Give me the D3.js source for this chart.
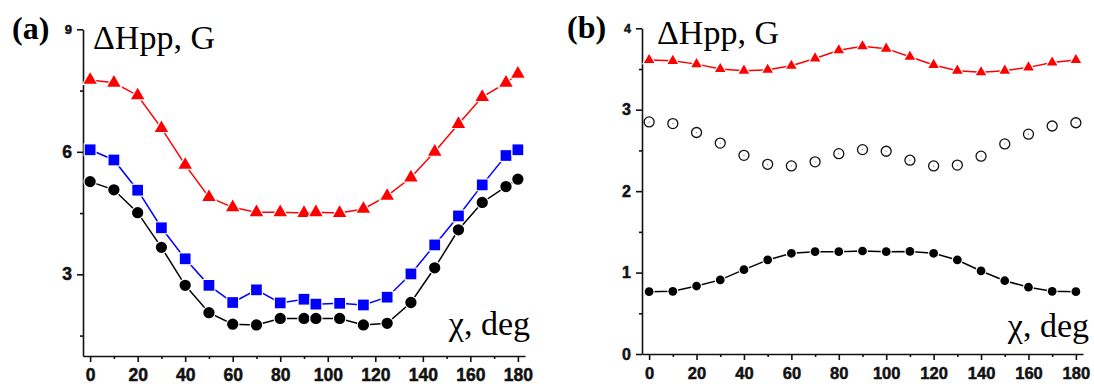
<!DOCTYPE html>
<html>
<head>
<meta charset="utf-8">
<script src="https://cdn.jsdelivr.net/npm/d3@7"></script>
<style>
  body { margin: 0; background: #fff; }
  svg { display: block; }
</style>
</head>
<body>
<div id="chart"></div>
<script>
// panel (a) data
const anglesA = [0, 10, 20, 30, 40, 50, 60, 70, 80, 90, 95, 105, 115, 125, 135, 145, 155, 165, 175, 180];
const redA   = [7.76, 7.69, 7.38, 6.58, 5.68, 4.89, 4.64, 4.52, 4.52, 4.50, 4.52, 4.50, 4.60, 4.92, 5.37, 6.00, 6.68, 7.34, 7.69, 7.91];
const blueA  = [6.05, 5.80, 5.06, 4.14, 3.38, 2.73, 2.31, 2.62, 2.30, 2.39, 2.27, 2.29, 2.25, 2.44, 3.01, 3.72, 4.43, 5.19, 5.91, 6.05];
const blackA = [5.27, 5.07, 4.51, 3.66, 2.73, 2.06, 1.78, 1.76, 1.92, 1.92, 1.92, 1.92, 1.76, 1.80, 2.31, 3.16, 4.09, 4.76, 5.15, 5.33];

// panel (b) data
const anglesB = [0, 10, 20, 30, 40, 50, 60, 70, 80, 90, 100, 110, 120, 130, 140, 150, 160, 170, 180];
const redB   = [3.61, 3.60, 3.56, 3.50, 3.48, 3.49, 3.54, 3.63, 3.73, 3.78, 3.75, 3.65, 3.55, 3.48, 3.46, 3.48, 3.52, 3.58, 3.61];
const openB  = [2.85, 2.83, 2.72, 2.59, 2.44, 2.33, 2.31, 2.36, 2.46, 2.51, 2.49, 2.38, 2.31, 2.32, 2.43, 2.58, 2.70, 2.80, 2.84];
const blackB = [0.765, 0.77, 0.835, 0.91, 1.036, 1.155, 1.237, 1.257, 1.257, 1.265, 1.257, 1.26, 1.237, 1.155, 1.02, 0.90, 0.82, 0.77, 0.765];

// tick values
const xMajor = [0, 20, 40, 60, 80, 100, 120, 140, 160, 180];
const xMinor = [10, 30, 50, 70, 90, 110, 130, 150, 170];
const yMajorA = [3, 6, 9];
const yMinorA = [1.5, 4.5, 7.5];
const yMajorB = [0, 1, 2, 3, 4];
const yMinorB = [0.5, 1.5, 2.5, 3.5];

const width = 1094, height = 386;
const svg = d3.select("#chart").append("svg")
    .attr("width", width)
    .attr("height", height);

function styleLabels(sel, size) {
    sel.style("font-family", "Arial, 'Liberation Sans', sans-serif")
        .style("font-weight", "700")
        .style("font-size", size)
        .attr("fill", "#111")
        .attr("stroke", "#111")
        .attr("stroke-width", 0.5);
}

function drawAxes(g, x, y, yMajor, yMinor, yLabelSize, xLabelSize, topLabelSize) {
    const yTop = y.domain()[1];
    // y axis
    const ya = g.append("g")
        .attr("transform", `translate(${x.range()[0]},0)`)
        .call(d3.axisLeft(y).tickValues(yMajor).tickFormat(d3.format("d"))
            .tickSize(6).tickSizeOuter(0).tickPadding(5));
    styleLabels(ya.selectAll("text"), d => (d === yTop ? topLabelSize : yLabelSize) + "px");
    g.append("g")
        .attr("transform", `translate(${x.range()[0]},0)`)
        .call(d3.axisLeft(y).tickValues(yMinor).tickSize(3).tickFormat(""))
        .select(".domain").remove();

    // x axis
    const xa = g.append("g")
        .attr("transform", `translate(0,${y.range()[0]})`)
        .call(d3.axisBottom(x).tickValues(xMajor).tickSize(6).tickSizeOuter(0).tickPadding(7));
    styleLabels(xa.selectAll("text"), xLabelSize + "px");
    g.append("g")
        .attr("transform", `translate(0,${y.range()[0]})`)
        .call(d3.axisBottom(x).tickValues(xMinor).tickSize(3).tickFormat(""))
        .select(".domain").remove();

    g.selectAll(".domain, .tick line")
        .attr("stroke", "#111")
        .attr("stroke-width", 1.6);
}

function drawSeries(g, x, y, angles, vals, color, shape, size, withLine) {
    const pts = angles.map((a, i) => [a, vals[i]]);
    if (withLine) {
        g.append("path")
            .datum(pts)
            .attr("fill", "none")
            .attr("stroke", color)
            .attr("stroke-width", 1.5)
            .attr("d", d3.line().x(d => x(d[0])).y(d => y(d[1])));
    }
    g.append("g").selectAll("path")
        .data(pts)
        .join("path")
        .attr("transform", d => `translate(${x(d[0])},${y(d[1])})`)
        .attr("d", d3.symbol().type(shape).size(size))
        .attr("fill", color)
        .attr("stroke", "#fff")
        .attr("stroke-width", 2.2)
        .style("paint-order", "stroke");
}

function addText(g, txt, x, y, size, opts) {
    const t = g.append("text")
        .attr("x", x).attr("y", y)
        .style("font-family", "'Times New Roman', 'Liberation Serif', serif")
        .style("font-size", size + "px")
        .attr("fill", "#000")
        .text(txt);
    if (opts && opts.bold) t.style("font-weight", "bold");
    if (opts && opts.anchor) t.attr("text-anchor", opts.anchor);
    return t;
}

// ---------- panel (a)
const gA = svg.append("g");
const xA = d3.scaleLinear().domain([-3, 183]).range([83, 525]);
const yA = d3.scaleLinear().domain([1, 9]).range([356, 29.3]);
drawAxes(gA, xA, yA, yMajorA, yMinorA, 17.5, 17.5, 13);
drawSeries(gA, xA, yA, anglesA, redA, "#ff0000", d3.symbolTriangle, 78, true);
drawSeries(gA, xA, yA, anglesA, blueA, "#0000ff", d3.symbolSquare, 115, true);
drawSeries(gA, xA, yA, anglesA, blackA, "#000", d3.symbolCircle, 100, true);
addText(gA, "(a)", 12, 39, 32, { bold: true });
addText(gA, "\u0394Hpp, G", 93, 49, 34);
addText(gA, "\u03c7, deg", 530, 335, 34, { anchor: "end" });

// ---------- panel (b)
const gB = svg.append("g");
const xB = d3.scaleLinear().domain([-3, 183]).range([642, 1083]);
const yB = d3.scaleLinear().domain([0, 4]).range([354, 28.3]);
drawAxes(gB, xB, yB, yMajorB, yMinorB, 16, 16.5, 12.5);
drawSeries(gB, xB, yB, anglesB, redB, "#ff0000", d3.symbolTriangle, 48, true);
drawSeries(gB, xB, yB, anglesB, blackB, "#000", d3.symbolCircle, 60, true);
// open circles, no connecting line
const openPts = anglesB.map((a, i) => [a, openB[i]]);
gB.append("g").selectAll("circle")
    .data(openPts)
    .join("circle")
    .attr("cx", d => xB(d[0]))
    .attr("cy", d => yB(d[1]))
    .attr("r", 5)
    .attr("fill", "none")
    .attr("stroke", "#111")
    .attr("stroke-width", 1.3);
gB.append("g").selectAll("circle")
    .data(openPts)
    .join("circle")
    .attr("cx", d => xB(d[0]))
    .attr("cy", d => yB(d[1]))
    .attr("r", 0.6)
    .attr("fill", "#777");
addText(gB, "(b)", 567, 38, 32, { bold: true });
addText(gB, "\u0394Hpp, G", 657, 44, 34);
addText(gB, "\u03c7, deg", 1089, 337, 34, { anchor: "end" });
</script>
</body>
</html>
